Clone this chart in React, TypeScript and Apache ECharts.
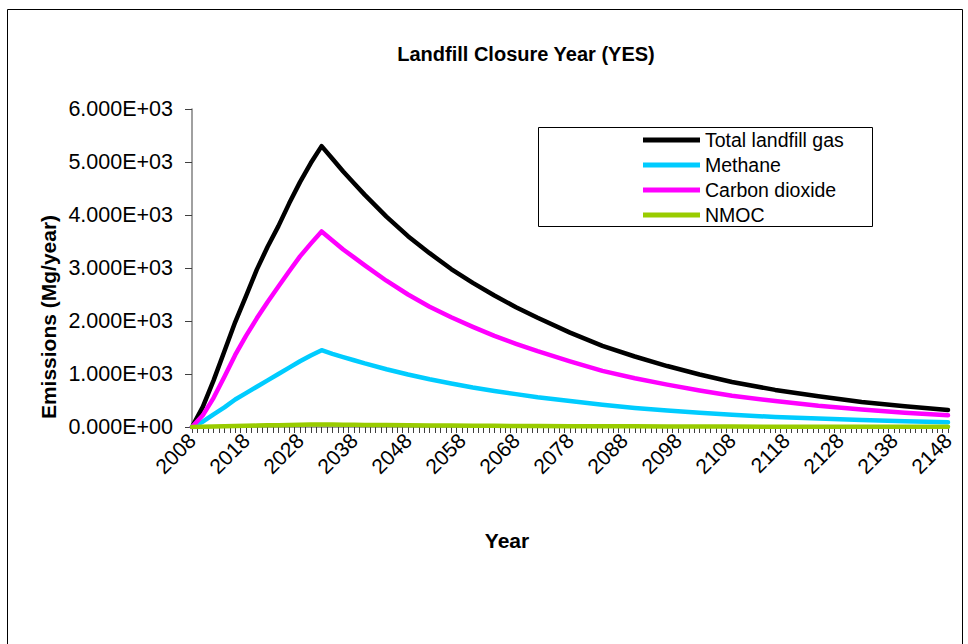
import React, { useEffect, useRef } from "react";
import * as echarts from "echarts";

const years = [
  2008, 2010, 2012, 2014, 2016, 2018, 2020, 2022, 2024, 2026, 2028, 2030, 2032,
  2034, 2036, 2038, 2040, 2044, 2048, 2052, 2056, 2060, 2064, 2068, 2072, 2078,
  2084, 2090, 2096, 2102, 2108, 2116, 2124, 2132, 2140, 2148,
];

const totalGas = [
  0, 380, 880, 1430, 1980, 2470, 2970, 3400, 3790, 4220, 4620, 4980, 5300,
  5060, 4820, 4600, 4380, 3970, 3600, 3280, 2980, 2720, 2480, 2260, 2060, 1780,
  1530, 1330, 1150, 990, 850, 700, 580, 470, 390, 320,
];

const methane = [
  0, 100, 240, 370, 520, 640, 760, 880, 1000, 1120, 1240, 1350, 1450,
  1380, 1320, 1260, 1200, 1090, 990, 900, 820, 745, 680, 620, 560, 490,
  420, 360, 310, 270, 230, 190, 160, 130, 110, 90,
];

const carbonDioxide = [
  0, 220, 550, 950, 1360, 1720, 2050, 2360, 2650, 2940, 3220, 3460, 3690,
  3520, 3350, 3200, 3050, 2760, 2500, 2270, 2070, 1890, 1720, 1570, 1430, 1240,
  1060, 920, 800, 690, 590, 490, 400, 330, 270, 220,
];

const nmoc = [
  0, 3, 8, 13, 18, 22, 27, 31, 34, 38, 42, 45, 48,
  46, 44, 42, 40, 36, 33, 30, 27, 25, 22, 20, 19, 16,
  14, 12, 10, 9, 8, 6, 5, 4, 4, 3,
];

const seriesNames = ["Total landfill gas", "Methane", "Carbon dioxide", "NMOC"];
const seriesColors = ["#000000", "#00CCFF", "#FF00FF", "#99CC00"];

const FONT = "'Liberation Sans', Arial, sans-serif";

export default function App() {
  const ref = useRef<HTMLDivElement>(null);

  useEffect(() => {
    if (!ref.current) return;
    const chart = echarts.init(ref.current, undefined, { renderer: "svg" });
    const allValues = [totalGas, methane, carbonDioxide, nmoc];
    const series = seriesNames.map((name, i) => ({
      name,
      type: "line",
      data: years.map((y, j) => [y, allValues[i][j]]),
      showSymbol: false,
      symbol: "none",
      smooth: false,
      lineStyle: { color: seriesColors[i], width: 4.5, cap: "round", join: "round" },
      itemStyle: { color: seriesColors[i] },
      z: 2 + i,
    }));

    chart.setOption({
      animation: false,
      backgroundColor: "#ffffff",
      title: {
        text: "Landfill Closure Year (YES)",
        left: 521,
        top: 37,
        textAlign: "center",
        textStyle: {
          fontFamily: FONT,
          fontSize: 20,
          fontWeight: "bold",
          color: "#000",
          lineHeight: 24,
        },
      },
      legend: {
        orient: "vertical",
        left: 643,
        top: 130,
        padding: 0,
        itemWidth: 57,
        itemHeight: 5,
        itemGap: 5,
        icon: "rect",
        data: seriesNames,
        textStyle: { fontFamily: FONT, fontSize: 19.5, color: "#000", lineHeight: 20 },
      },
      grid: { left: 192, top: 109, width: 756, height: 318, containLabel: false },
      xAxis: {
        type: "value",
        min: 2008,
        max: 2148,
        interval: 1,
        axisLine: { show: true, lineStyle: { color: "#808080", width: 1.5 } },
        axisTick: { show: true, length: 6, lineStyle: { color: "#404040", width: 1 } },
        splitLine: { show: false },
        axisLabel: {
          rotate: 45,
          margin: 10,
          fontFamily: FONT,
          fontSize: 21,
          color: "#000",
          showMinLabel: true,
          showMaxLabel: true,
          formatter: (v: number) => ((v - 2008) % 10 === 0 ? String(v) : ""),
        },
      },
      yAxis: {
        type: "value",
        min: 0,
        max: 6000,
        interval: 1000,
        axisLine: { show: true, lineStyle: { color: "#808080", width: 1.5 } },
        axisTick: { show: true, length: 7, lineStyle: { color: "#404040" } },
        splitLine: { show: false },
        axisLabel: {
          margin: 19,
          fontFamily: FONT,
          fontSize: 21.5,
          color: "#000",
          formatter: (v: number) =>
            v === 0 ? "0.000E+00" : (v / 1000).toFixed(3) + "E+03",
        },
      },
      graphic: [
        {
          type: "rect",
          z: -10,
          shape: { x: 7.5, y: 9.5, width: 955, height: 700 },
          style: { fill: "none", stroke: "#000", lineWidth: 1 },
          silent: true,
        },
        {
          type: "rect",
          shape: { x: 538.5, y: 127.5, width: 334, height: 99 },
          style: { fill: "#fff", stroke: "#000", lineWidth: 1 },
          z: 1,
          silent: true,
        },
        {
          type: "text",
          x: 48,
          y: 317,
          rotation: Math.PI / 2,
          style: {
            text: "Emissions (Mg/year)",
            fontFamily: FONT,
            fontSize: 21,
            fontWeight: "bold",
            fill: "#000",
            align: "center",
            verticalAlign: "middle",
          },
        },
        {
          type: "text",
          x: 507,
          y: 540,
          style: {
            text: "Year",
            fontFamily: FONT,
            fontSize: 21,
            fontWeight: "bold",
            fill: "#000",
            align: "center",
            verticalAlign: "middle",
          },
        },
      ],
      series,
    });
    return () => chart.dispose();
  }, []);

  return (
    <div
      ref={ref}
      style={{ position: "absolute", left: 0, top: 0, width: 968, height: 644 }}
    />
  );
}
